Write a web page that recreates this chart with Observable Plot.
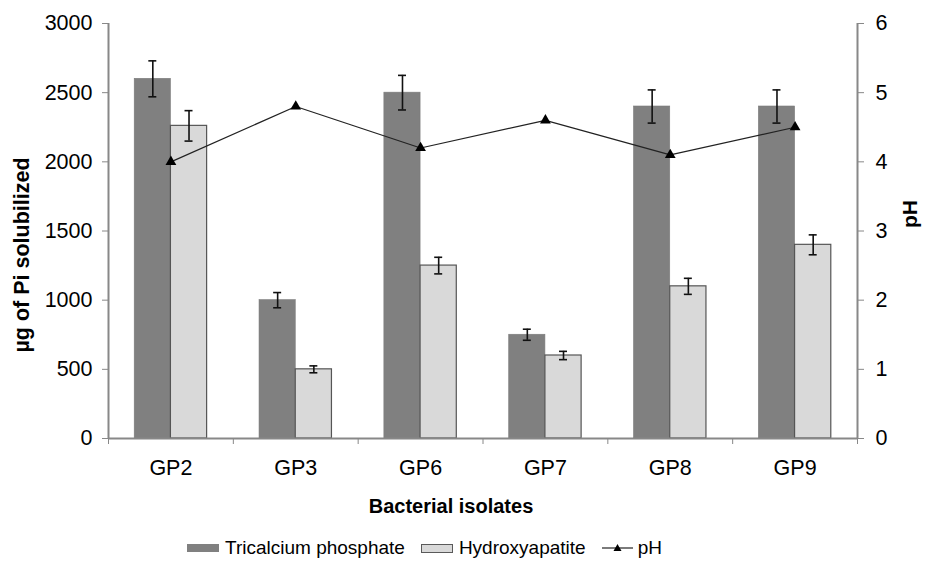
<!DOCTYPE html>
<html><head><meta charset="utf-8">
<script src="https://cdn.jsdelivr.net/npm/d3@7"></script>
<script src="https://cdn.jsdelivr.net/npm/@observablehq/plot@0.6"></script>
<style>
body{margin:0;background:#fff;font-family:"Liberation Sans",Arial,sans-serif;}
#legend{position:relative;width:925px;height:33px;font-size:19px;color:#000;}
#legend .row{position:absolute;left:187px;top:7px;display:flex;align-items:center;height:22px;white-space:nowrap;}
.sw{display:inline-block;width:32px;height:8px;margin-right:6px;}
.sw1{background:#808080;}
.sw2{background:#d9d9d9;border:1px solid #5a5a5a;width:30px;height:7px;}
.item{display:flex;align-items:center;margin-right:16px;}
</style></head><body>
<div id="chart"></div>
<div id="legend"><div class="row">
<span class="item"><span class="sw sw1"></span>Tricalcium phosphate</span>
<span class="item"><span class="sw sw2"></span>Hydroxyapatite</span>
<span class="item"><svg width="31" height="12" style="margin-right:5px"><line x1="0" y1="6" x2="31" y2="6" stroke="#222" stroke-width="1.2"/><path d="M15.5,2 L19.5,9 L11.5,9 Z" fill="#000"/></svg>pH</span>
</div></div>
<script>
const categories = ["GP2","GP3","GP6","GP7","GP8","GP9"];
const tricalcium = [2600,1000,2500,750,2400,2400];
const tricalciumErr = [130,55,125,40,120,120];
const hydroxyapatite = [2260,500,1250,600,1100,1400];
const hydroxyapatiteErr = [110,25,60,30,58,72];
const pH = [4.0,4.8,4.2,4.6,4.1,4.5];
const yTicks = [0,500,1000,1500,2000,2500,3000];
const pHTicks = [0,1,2,3,4,5,6];

const yMax = 3000, pHMax = 6;
const toY = p => p * yMax / pHMax;
const rows = categories.map((c,i)=>({i, cat:c, tri:tricalcium[i], triE:tricalciumErr[i], hyd:hydroxyapatite[i], hydE:hydroxyapatiteErr[i], ph:pH[i]}));
const n = categories.length;
const b0 = 0.21, bm = 0.5, b1 = 0.79, cap = 0.032;
const cTri = (b0+bm)/2, cHyd = (bm+b1)/2;
const axisColor = "#888";
const tickFont = 21.5;

const chart = Plot.plot({
  width: 925, height: 530,
  marginLeft: 108, marginRight: 68, marginTop: 23, marginBottom: 92,
  style: {fontSize: "20px", fontFamily: "'Liberation Sans', Arial, sans-serif", color: "#000", background: "#fff"},
  x: {type: "linear", domain: [0, n], axis: null},
  y: {domain: [0, yMax], axis: null},
  marks: [
    Plot.rectY(rows, {x1: d=>d.i+b0, x2: d=>d.i+bm, y1: 0, y2: "tri", fill: "#808080", stroke: "#7a7a7a", strokeWidth: 0.6}),
    Plot.rectY(rows, {x1: d=>d.i+bm, x2: d=>d.i+b1, y1: 0, y2: "hyd", fill: "#d9d9d9", stroke: "#555", strokeWidth: 1.2}),
    Plot.ruleX(rows, {x: d=>d.i+cTri, y1: d=>d.tri-d.triE, y2: d=>d.tri+d.triE, stroke: "#111", strokeWidth: 1.6}),
    Plot.ruleY(rows, {y: d=>d.tri-d.triE, x1: d=>d.i+cTri-cap, x2: d=>d.i+cTri+cap, stroke: "#111", strokeWidth: 1.6}),
    Plot.ruleY(rows, {y: d=>d.tri+d.triE, x1: d=>d.i+cTri-cap, x2: d=>d.i+cTri+cap, stroke: "#111", strokeWidth: 1.6}),
    Plot.ruleX(rows, {x: d=>d.i+cHyd, y1: d=>d.hyd-d.hydE, y2: d=>d.hyd+d.hydE, stroke: "#111", strokeWidth: 1.6}),
    Plot.ruleY(rows, {y: d=>d.hyd-d.hydE, x1: d=>d.i+cHyd-cap, x2: d=>d.i+cHyd+cap, stroke: "#111", strokeWidth: 1.6}),
    Plot.ruleY(rows, {y: d=>d.hyd+d.hydE, x1: d=>d.i+cHyd-cap, x2: d=>d.i+cHyd+cap, stroke: "#111", strokeWidth: 1.6}),
    Plot.line(rows, {x: d=>d.i+0.5, y: d=>toY(d.ph), stroke: "#222", strokeWidth: 1.2}),
    Plot.dot(rows, {x: d=>d.i+0.5, y: d=>toY(d.ph), symbol: "triangle", r: 4, fill: "#000", stroke: "none"}),
    Plot.ruleX([0, n], {stroke: axisColor, strokeWidth: 2}),
    Plot.ruleY([0], {stroke: axisColor, strokeWidth: 2}),
    Plot.axisY({anchor: "left", ticks: yTicks, tickFormat: d3.format("d"), tickSize: 6, tickPadding: 10, stroke: axisColor, fill: "#000", fontSize: tickFont, label: null}),
    Plot.axisY({anchor: "right", ticks: pHTicks.map(toY), tickFormat: d => d3.format("d")(d*pHMax/yMax), tickSize: 6, tickPadding: 12, stroke: axisColor, fill: "#000", fontSize: tickFont, label: null}),
    Plot.axisX({ticks: d3.range(n+1), tickSize: 6, tickFormat: () => "", stroke: axisColor, label: null}),
    Plot.axisX({ticks: categories.map((c,i)=>i+0.5), tickFormat: d => categories[Math.floor(d)], tickSize: 0, tickPadding: 21, fill: "#000", fontSize: tickFont, label: null}),
    Plot.text(["µg of Pi solubilized"], {frameAnchor: "left", textAnchor: "middle", lineAnchor: "middle", dx: -86, dy: 24, rotate: -90, fontWeight: "bold", fontSize: 21.5, fill: "#000"}),
    Plot.text(["pH"], {frameAnchor: "right", textAnchor: "middle", lineAnchor: "middle", dx: 53, dy: -17, rotate: -90, fontWeight: "bold", fontSize: 21, fill: "#000"}),
    Plot.text(["Bacterial isolates"], {frameAnchor: "bottom", textAnchor: "middle", lineAnchor: "middle", dx: -32, dy: 68, fontWeight: "bold", fill: "#000"})
  ]
});
document.getElementById("chart").appendChild(chart);
</script>
</body></html>
